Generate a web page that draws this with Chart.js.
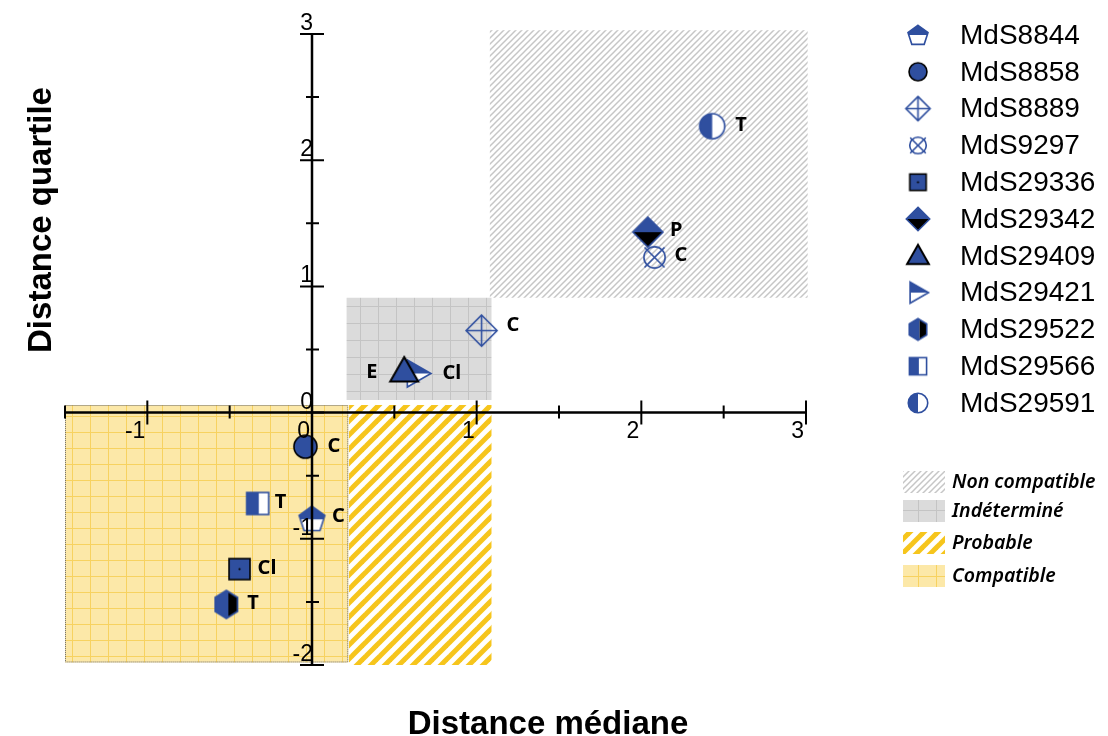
<!DOCTYPE html>
<html>
<head>
<meta charset="utf-8">
<script src="https://cdn.jsdelivr.net/npm/chart.js@4.4.1/dist/chart.umd.min.js"></script>
<style>
  html, body { margin: 0; padding: 0; background: #fff; }
  #wrap { width: 1108px; height: 736px; }
</style>
</head>
<body>
<div id="wrap"><canvas id="chart" width="1108" height="736"></canvas></div>
<script>
// series
const seriesNames = ['MdS8844', 'MdS8858', 'MdS8889', 'MdS9297', 'MdS29336', 'MdS29342',
    'MdS29409', 'MdS29421', 'MdS29522', 'MdS29566', 'MdS29591'];
const medianDist = [0.00, -0.04, 1.03, 2.08, -0.44, 2.04, 0.56, 0.64, -0.52, -0.33, 2.43];
const quartileDist = [-0.84, -0.27, 0.65, 1.23, -1.24, 1.43, 0.33, 0.31, -1.52, -0.72, 2.27];
const pointLabels = ['C', 'C', 'C', 'C', 'Cl', 'P', 'E', 'Cl', 'T', 'T', 'T'];

// zones
const zoneNames = ['Non compatible', 'Indéterminé', 'Probable', 'Compatible'];
const zoneX0 = [1.08, 0.21, 0.225, -1.5];
const zoneX1 = [3.01, 1.09, 1.09, 0.22];
const zoneY0 = [0.91, 0.10, -2.0, -1.98];
const zoneY1 = [3.03, 0.91, 0.06, 0.06];

// axes
const xTicks = [-1, 0, 1, 2, 3];
const yTicks = [-2, -1, 0, 1, 2, 3];
const xMinorTicks = [-1.5, -0.5, 0.5, 1.5, 2.5];
const yMinorTicks = [-1.5, -0.5, 0.5, 1.5, 2.5];

const BLUE = '#2f4f9f';
const markerStyles = ['pentagonTop', 'circle', 'diamondCross', 'circleX', 'squareDot', 'diamondHalf',
    'triangle', 'triRightHalf', 'hexHalf', 'squareHalf', 'circleHalf'];
const markerSizes = [27, 23, 31, 25, 21, 30, 28, 27, 28, 22, 25];
const labelDx = [20, 22, 25, 20, 18, 22, -38, 25, 21, 17, 23];
const labelDy = [-2, 0, -5, -2, -1, -2, 1, 0, -1, -1, -1];

function poly(g, pts) {
    g.beginPath();
    pts.forEach((p, i) => i ? g.lineTo(p[0], p[1]) : g.moveTo(p[0], p[1]));
    g.closePath();
}

function fillClip(g, pathFn, clip, color) {
    g.save();
    g.beginPath();
    g.rect(clip[0], clip[1], clip[2], clip[3]);
    g.clip();
    pathFn();
    g.fillStyle = color;
    g.fill();
    g.restore();
}

function makeMarker(style, s) {
    const pad = 4;
    const c = document.createElement('canvas');
    c.width = c.height = Math.ceil(s + pad * 2);
    const g = c.getContext('2d');
    g.translate(c.width / 2, c.height / 2);
    const r = s / 2;
    g.lineWidth = 1.6;
    g.lineJoin = 'miter';
    let path;
    switch (style) {
        case 'pentagonTop': {
            const pts = [];
            for (let k = 0; k < 5; k++) {
                const a = (-90 + 72 * k) * Math.PI / 180;
                pts.push([r * Math.cos(a), r * Math.sin(a) + r * 0.08]);
            }
            path = () => poly(g, pts);
            path(); g.fillStyle = '#fff'; g.fill();
            fillClip(g, path, [-r - 2, -r - 2, s + 4, r * 1.2], BLUE);
            path(); g.strokeStyle = BLUE; g.stroke();
            break;
        }
        case 'circle':
            g.beginPath(); g.arc(0, 0, r, 0, Math.PI * 2);
            g.fillStyle = BLUE; g.fill(); g.strokeStyle = '#000'; g.stroke();
            break;
        case 'diamondCross':
            poly(g, [[0, -r], [r, 0], [0, r], [-r, 0]]);
            g.strokeStyle = BLUE; g.stroke();
            g.beginPath(); g.moveTo(-r, 0); g.lineTo(r, 0); g.moveTo(0, -r); g.lineTo(0, r); g.stroke();
            break;
        case 'circleX': {
            g.strokeStyle = BLUE;
            g.beginPath(); g.arc(0, 0, r * 0.85, 0, Math.PI * 2); g.stroke();
            const d = r * 0.8;
            g.beginPath(); g.moveTo(-d, -d); g.lineTo(d, d); g.moveTo(d, -d); g.lineTo(-d, d); g.stroke();
            break;
        }
        case 'squareDot':
            g.fillStyle = BLUE; g.fillRect(-r, -r, s, s);
            g.strokeStyle = '#000'; g.strokeRect(-r, -r, s, s);
            g.beginPath(); g.arc(0, 0, 1.1, 0, Math.PI * 2); g.fillStyle = '#000'; g.fill();
            break;
        case 'diamondHalf':
            path = () => poly(g, [[0, -r], [r, 0], [0, r], [-r, 0]]);
            fillClip(g, path, [-r - 2, -r - 2, s + 4, r + 2], BLUE);
            fillClip(g, path, [-r - 2, 0, s + 4, r + 2], '#000');
            path(); g.strokeStyle = BLUE; g.stroke();
            break;
        case 'triangle':
            poly(g, [[0, -r], [r, r * 0.75], [-r, r * 0.75]]);
            g.fillStyle = BLUE; g.fill(); g.strokeStyle = '#000'; g.lineWidth = 2; g.stroke();
            break;
        case 'triRightHalf':
            path = () => poly(g, [[-r * 0.75, -r], [r, 0], [-r * 0.75, r]]);
            path(); g.fillStyle = '#fff'; g.fill();
            fillClip(g, path, [-r - 2, -r - 2, s + 4, r + 2], BLUE);
            path(); g.strokeStyle = BLUE; g.stroke();
            break;
        case 'hexHalf': {
            const w = r * 0.8;
            path = () => poly(g, [[0, -r], [w, -r / 2], [w, r / 2], [0, r], [-w, r / 2], [-w, -r / 2]]);
            fillClip(g, path, [-r - 2, -r - 2, r + 2 + r * 0.15, s + 4], BLUE);
            fillClip(g, path, [r * 0.15, -r - 2, r + 2, s + 4], '#000');
            path(); g.strokeStyle = BLUE; g.stroke();
            break;
        }
        case 'squareHalf':
            g.fillStyle = '#fff'; g.fillRect(-r, -r, s, s);
            g.fillStyle = BLUE; g.fillRect(-r, -r, s * 0.55, s);
            g.strokeStyle = BLUE; g.strokeRect(-r, -r, s, s);
            break;
        case 'circleHalf':
            g.beginPath(); g.arc(0, 0, r, 0, Math.PI * 2); g.fillStyle = '#fff'; g.fill();
            g.beginPath(); g.arc(0, 0, r, Math.PI / 2, Math.PI * 1.5); g.closePath();
            g.fillStyle = BLUE; g.fill();
            g.beginPath(); g.arc(0, 0, r, 0, Math.PI * 2); g.strokeStyle = BLUE; g.stroke();
            break;
    }
    return c;
}

function tile(w, h, draw) {
    const c = document.createElement('canvas');
    c.width = w;
    c.height = h;
    draw(c.getContext('2d'), w, h);
    return c;
}

function stripes(bg, fg, p, lw) {
    return tile(p, p, (g, n) => {
        g.fillStyle = bg; g.fillRect(0, 0, n, n);
        g.strokeStyle = fg; g.lineWidth = lw;
        for (const k of [0, n, 2 * n]) {
            g.beginPath(); g.moveTo(-n, k + n); g.lineTo(2 * n, k - 2 * n); g.stroke();
        }
    });
}

function grid(bg, fg, w, h) {
    return tile(w, h, (g, tw, th) => {
        g.fillStyle = bg; g.fillRect(0, 0, tw, th);
        g.fillStyle = fg;
        g.fillRect(0, 0, tw, 1);
        g.fillRect(0, 0, 1, th);
    });
}

const ctxMain = document.getElementById('chart').getContext('2d');
const zonePatterns = [
    ctxMain.createPattern(stripes('#ffffff', '#c6c6c6', 6, 1.5), 'repeat'),
    ctxMain.createPattern(grid('#dbdbdb', '#c4c4c4', 18, 17), 'repeat'),
    ctxMain.createPattern(stripes('#ffffff', '#f6c51c', 14, 5), 'repeat'),
    ctxMain.createPattern(grid('#fce8a8', '#f7d260', 18, 16), 'repeat')
];

const plotMarkers = markerStyles.map((st, i) => makeMarker(st, markerSizes[i]));
const legendMarkers = markerStyles.map((st, i) => makeMarker(st, markerSizes[i] * 0.78));

const zonesPlugin = {
    id: 'zones',
    beforeDatasetsDraw(chart) {
        const { ctx, scales: { x, y } } = chart;
        ctx.save();
        zoneNames.forEach((name, i) => {
            const l = x.getPixelForValue(zoneX0[i]);
            const r = x.getPixelForValue(zoneX1[i]);
            const t = y.getPixelForValue(zoneY1[i]);
            const b = y.getPixelForValue(zoneY0[i]);
            ctx.fillStyle = zonePatterns[i];
            ctx.fillRect(l, t, r - l, b - t);
            if (name === 'Compatible') {
                ctx.strokeStyle = '#666';
                ctx.lineWidth = 1;
                ctx.setLineDash([1, 1]);
                ctx.strokeRect(l + 0.5, t + 0.5, r - l - 1, b - t - 1);
                ctx.setLineDash([]);
            }
        });
        ctx.restore();
    },
    afterDatasetsDraw(chart) {
        const { ctx, scales: { x, y } } = chart;
        const x0 = x.getPixelForValue(0);
        const y0 = y.getPixelForValue(0);
        ctx.save();
        ctx.strokeStyle = '#000';
        ctx.lineWidth = 2.5;
        ctx.beginPath();
        ctx.moveTo(x.getPixelForValue(-1.5), y0); ctx.lineTo(x.getPixelForValue(3), y0);
        ctx.moveTo(x0, y.getPixelForValue(3)); ctx.lineTo(x0, y.getPixelForValue(-2));
        ctx.stroke();
        ctx.lineWidth = 2;
        ctx.beginPath();
        xTicks.forEach(v => { const px = x.getPixelForValue(v); ctx.moveTo(px, y0 - 12); ctx.lineTo(px, y0 + 12); });
        xMinorTicks.forEach(v => { const px = x.getPixelForValue(v); ctx.moveTo(px, y0 - 7); ctx.lineTo(px, y0 + 6); });
        yTicks.forEach(v => { const py = y.getPixelForValue(v); ctx.moveTo(x0 - 12, py); ctx.lineTo(x0 + 12, py); });
        yMinorTicks.forEach(v => { const py = y.getPixelForValue(v); ctx.moveTo(x0 - 6, py); ctx.lineTo(x0 + 7, py); });
        ctx.stroke();

        ctx.fillStyle = '#000';
        ctx.font = '23px "Liberation Sans", Arial, sans-serif';
        ctx.textAlign = 'right';
        ctx.textBaseline = 'alphabetic';
        yTicks.forEach(v => ctx.fillText(String(v), x0 + 1, y.getPixelForValue(v) - 4));
        ctx.textBaseline = 'top';
        xTicks.forEach(v => ctx.fillText(String(v), x.getPixelForValue(v) - 2, y0 + 8));

        // point labels
        ctx.font = 'bold 20px "Noto Sans", sans-serif';
        ctx.textAlign = 'left';
        ctx.textBaseline = 'middle';
        chart.data.datasets.forEach((ds, i) => {
            const pt = chart.getDatasetMeta(i).data[0];
            ctx.fillText(pointLabels[i], pt.x + labelDx[i], pt.y + labelDy[i]);
        });

        // axis titles
        ctx.font = 'bold 33px "Liberation Sans", Arial, sans-serif';
        ctx.textAlign = 'center';
        ctx.textBaseline = 'alphabetic';
        ctx.fillText('Distance médiane', 548, 734);
        ctx.save();
        ctx.translate(51, 220);
        ctx.rotate(-Math.PI / 2);
        ctx.fillText('Distance quartile', 0, 0);
        ctx.restore();

        // series legend
        ctx.font = '28px "Liberation Sans", Arial, sans-serif';
        ctx.textAlign = 'left';
        ctx.textBaseline = 'middle';
        seriesNames.forEach((name, i) => {
            const cy = 35 + i * 36.8;
            const m = legendMarkers[i];
            ctx.drawImage(m, 918 - m.width / 2, cy - m.height / 2);
            ctx.fillText(name, 960, cy + 1);
        });

        // zone legend
        const zoneRowY = [482, 511, 543, 576];
        ctx.font = 'italic 600 19.5px "Noto Sans", sans-serif';
        zoneNames.forEach((name, i) => {
            ctx.fillStyle = zonePatterns[i];
            ctx.fillRect(903, zoneRowY[i] - 11, 42, 22);
            ctx.fillStyle = '#000';
            ctx.fillText(name, 952, zoneRowY[i]);
        });
        ctx.restore();
    }
};

new Chart(ctxMain, {
    type: 'scatter',
    data: {
        datasets: seriesNames.map((name, i) => ({
            label: name,
            data: [{ x: medianDist[i], y: quartileDist[i] }],
            pointStyle: plotMarkers[i],
            pointRadius: 5
        }))
    },
    options: {
        responsive: false,
        animation: false,
        layout: { padding: { left: 65, right: 302, top: 34, bottom: 71 } },
        plugins: { legend: { display: false }, tooltip: { enabled: false } },
        scales: {
            x: { type: 'linear', min: -1.5, max: 3, display: false },
            y: { type: 'linear', min: -2, max: 3, display: false }
        }
    },
    plugins: [zonesPlugin]
});
</script>
</body>
</html>
